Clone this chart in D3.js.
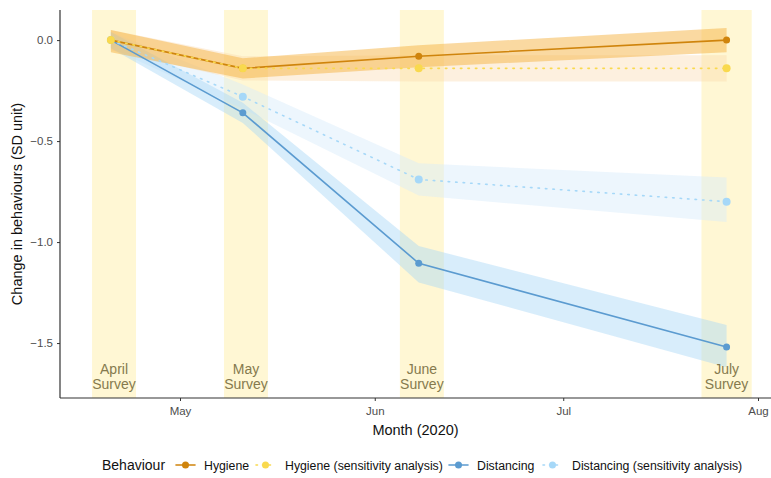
<!DOCTYPE html>
<meta charset="utf-8">
<style>
  body { margin: 0; background: #fff; }
  text { font-family: "Liberation Sans", Arial, sans-serif; }
</style>
<svg id="chart" width="771" height="478"></svg>
<script src="https://cdn.jsdelivr.net/npm/d3@7"></script>
<script>

// survey fieldwork windows and the date each survey is plotted at
var surveyNames = ["April", "May", "June", "July"];
var surveyStart = ["2020-04-17", "2020-05-08", "2020-06-05", "2020-07-23"];
var surveyEnd   = ["2020-04-24", "2020-05-15", "2020-06-12", "2020-07-31"];
var surveyDate  = ["2020-04-20", "2020-05-11", "2020-06-08", "2020-07-27"];

var hygiene        = [0.00, -0.14, -0.08, 0.00];
var hygieneLo      = [-0.06, -0.19, -0.135, -0.06];
var hygieneHi      = [0.05, -0.09, -0.025, 0.06];
var hygieneSens    = [0.00, -0.14, -0.14, -0.14];
var hygieneSensLo  = [-0.05, -0.20, -0.205, -0.205];
var hygieneSensHi  = [0.05, -0.08, -0.075, -0.075];
var distancing     = [0.00, -0.36, -1.105, -1.52];
var distancingLo   = [-0.04, -0.41, -1.20, -1.62];
var distancingHi   = [0.04, -0.31, -1.02, -1.41];
var distancingSens   = [0.00, -0.28, -0.69, -0.80];
var distancingSensLo = [-0.04, -0.34, -0.77, -0.90];
var distancingSensHi = [0.04, -0.22, -0.61, -0.68];

var yTicks = [0, -0.5, -1, -1.5];
var xTicks = ["2020-05-01", "2020-06-01", "2020-07-01", "2020-08-01"];

var legendTitle = "Behaviour";
var seriesNames = ["Hygiene", "Hygiene (sensitivity analysis)", "Distancing", "Distancing (sensitivity analysis)"];

var parse = d3.timeParse("%Y-%m-%d");

var series = [
    {name: seriesNames[0], v: hygiene, lo: hygieneLo, hi: hygieneHi, color: "#cf840c", fill: "#f6b443", fillOp: 0.5, dash: null, r: 3.5},
    {name: seriesNames[1], v: hygieneSens, lo: hygieneSensLo, hi: hygieneSensHi, color: "#f9d94e", fill: "#f9d4a4", fillOp: 0.35, dash: "1.5,6", r: 4},
    {name: seriesNames[2], v: distancing, lo: distancingLo, hi: distancingHi, color: "#5b9bd0", fill: "#a9d6f6", fillOp: 0.45, dash: null, r: 3.5},
    {name: seriesNames[3], v: distancingSens, lo: distancingSensLo, hi: distancingSensHi, color: "#a6d8f8", fill: "#d8ecfb", fillOp: 0.45, dash: "1.5,6", r: 4}
];

var svg = d3.select("#chart");
var margin = {left: 60, right: 1, top: 10, bottom: 80};
var W = 771, H = 478;

// May 1 lands near 180 px and Aug 1 near 758 px
var dMay = parse("2020-05-01"), dAug = parse("2020-08-01");
var pxPerMs = (758 - 180) / (dAug - dMay);
var x = d3.scaleTime()
    .domain([new Date(+dMay - (180 - margin.left) / pxPerMs), new Date(+dMay + (W - margin.right - 180) / pxPerMs)])
    .range([margin.left, W - margin.right]);

var y = d3.scaleLinear()
    .domain([0.149, -1.772])
    .range([margin.top, H - margin.bottom]);

var panelBottom = H - margin.bottom;

// survey bands
var g = svg.append("g");
g.selectAll("rect.band")
    .data(surveyNames)
    .enter().append("rect")
    .attr("class", "band")
    .attr("x", function(d, i) { return x(parse(surveyStart[i])); })
    .attr("width", function(d, i) { return x(parse(surveyEnd[i])) - x(parse(surveyStart[i])); })
    .attr("y", margin.top)
    .attr("height", panelBottom - margin.top)
    .attr("fill", "#fff6cc")
    .attr("opacity", 0.85);

// ribbons
var area = d3.area()
    .x(function(d) { return x(d.date); })
    .y0(function(d) { return y(d.lo); })
    .y1(function(d) { return y(d.hi); });

function rows(s) {
    return surveyDate.map(function(dt, i) {
        return {date: parse(dt), v: s.v[i], lo: s.lo[i], hi: s.hi[i]};
    });
}

[3, 1, 2, 0].forEach(function(k) {
    var s = series[k];
    g.append("path")
        .datum(rows(s))
        .attr("d", area)
        .attr("fill", s.fill)
        .attr("fill-opacity", s.fillOp);
});

var line = d3.line()
    .x(function(d) { return x(d.date); })
    .y(function(d) { return y(d.v); });

[2, 3, 0, 1].forEach(function(k) {
    var s = series[k];
    g.append("path")
        .datum(rows(s))
        .attr("d", line)
        .attr("fill", "none")
        .attr("stroke", s.color)
        .attr("stroke-width", 1.6)
        .attr("stroke-dasharray", s.dash)
        .attr("stroke-linecap", "round");
    g.selectAll(null)
        .data(rows(s))
        .enter().append("circle")
        .attr("cx", function(d) { return x(d.date); })
        .attr("cy", function(d) { return y(d.v); })
        .attr("r", s.r)
        .attr("fill", s.color);
});

// survey labels
surveyNames.forEach(function(n, i) {
    var cx = (x(parse(surveyStart[i])) + x(parse(surveyEnd[i]))) / 2;
    var t = g.append("text")
        .attr("x", cx)
        .attr("text-anchor", "middle")
        .attr("fill", "#857a4e")
        .attr("font-size", 14);
    t.append("tspan").attr("x", cx).attr("y", 374).text(n);
    t.append("tspan").attr("x", cx).attr("y", 389).text("Survey");
});

// axes
var yAxis = svg.append("g")
    .attr("transform", "translate(" + margin.left + ",0)")
    .call(d3.axisLeft(y).tickValues(yTicks).tickFormat(d3.format(".1f")).tickSize(3).tickPadding(4));
var xAxis = svg.append("g")
    .attr("transform", "translate(0," + panelBottom + ")")
    .call(d3.axisBottom(x).tickValues(xTicks.map(parse)).tickFormat(d3.timeFormat("%b")).tickSize(3).tickPadding(6));

[yAxis, xAxis].forEach(function(a) {
    a.select(".domain").attr("stroke", "#333").attr("stroke-width", 1.2);
    a.selectAll(".tick line").attr("stroke", "#333");
    a.selectAll(".tick text").attr("fill", "#4d4d4d").attr("font-size", 11.5)
        .attr("font-family", "Liberation Sans, Arial, sans-serif");
});
yAxis.select(".domain").attr("d", "M0," + margin.top + "V" + panelBottom);
xAxis.select(".domain").attr("d", "M" + margin.left + ",0H" + W);

svg.append("text")
    .attr("transform", "translate(22," + ((margin.top + panelBottom) / 2) + ") rotate(-90)")
    .attr("text-anchor", "middle")
    .attr("font-size", 14.5)
    .attr("fill", "#111")
    .text("Change in behaviours (SD unit)");

svg.append("text")
    .attr("x", (margin.left + W) / 2)
    .attr("y", 435)
    .attr("text-anchor", "middle")
    .attr("font-size", 14.5)
    .attr("fill", "#111")
    .text("Month (2020)");

// legend
var leg = svg.append("g").attr("transform", "translate(0,470)");
leg.append("text").attr("x", 102).attr("y", 0).attr("font-size", 14).attr("fill", "#111").text(legendTitle);
var keyX = [176, 256, 449, 543];
var textX = [204, 285, 477, 572];
series.forEach(function(s, i) {
    var kx = keyX[i];
    leg.append("line")
        .attr("x1", kx).attr("x2", kx + 19).attr("y1", -5).attr("y2", -5)
        .attr("stroke", s.color).attr("stroke-width", 1.6)
        .attr("stroke-dasharray", s.dash ? "1.5,5" : null)
        .attr("stroke-linecap", "round");
    leg.append("circle").attr("cx", kx + 9.5).attr("cy", -5).attr("r", 3.5).attr("fill", s.color);
    leg.append("text").attr("x", textX[i]).attr("y", 0).attr("font-size", 12.3).attr("fill", "#111").text(s.name);
});

</script>
